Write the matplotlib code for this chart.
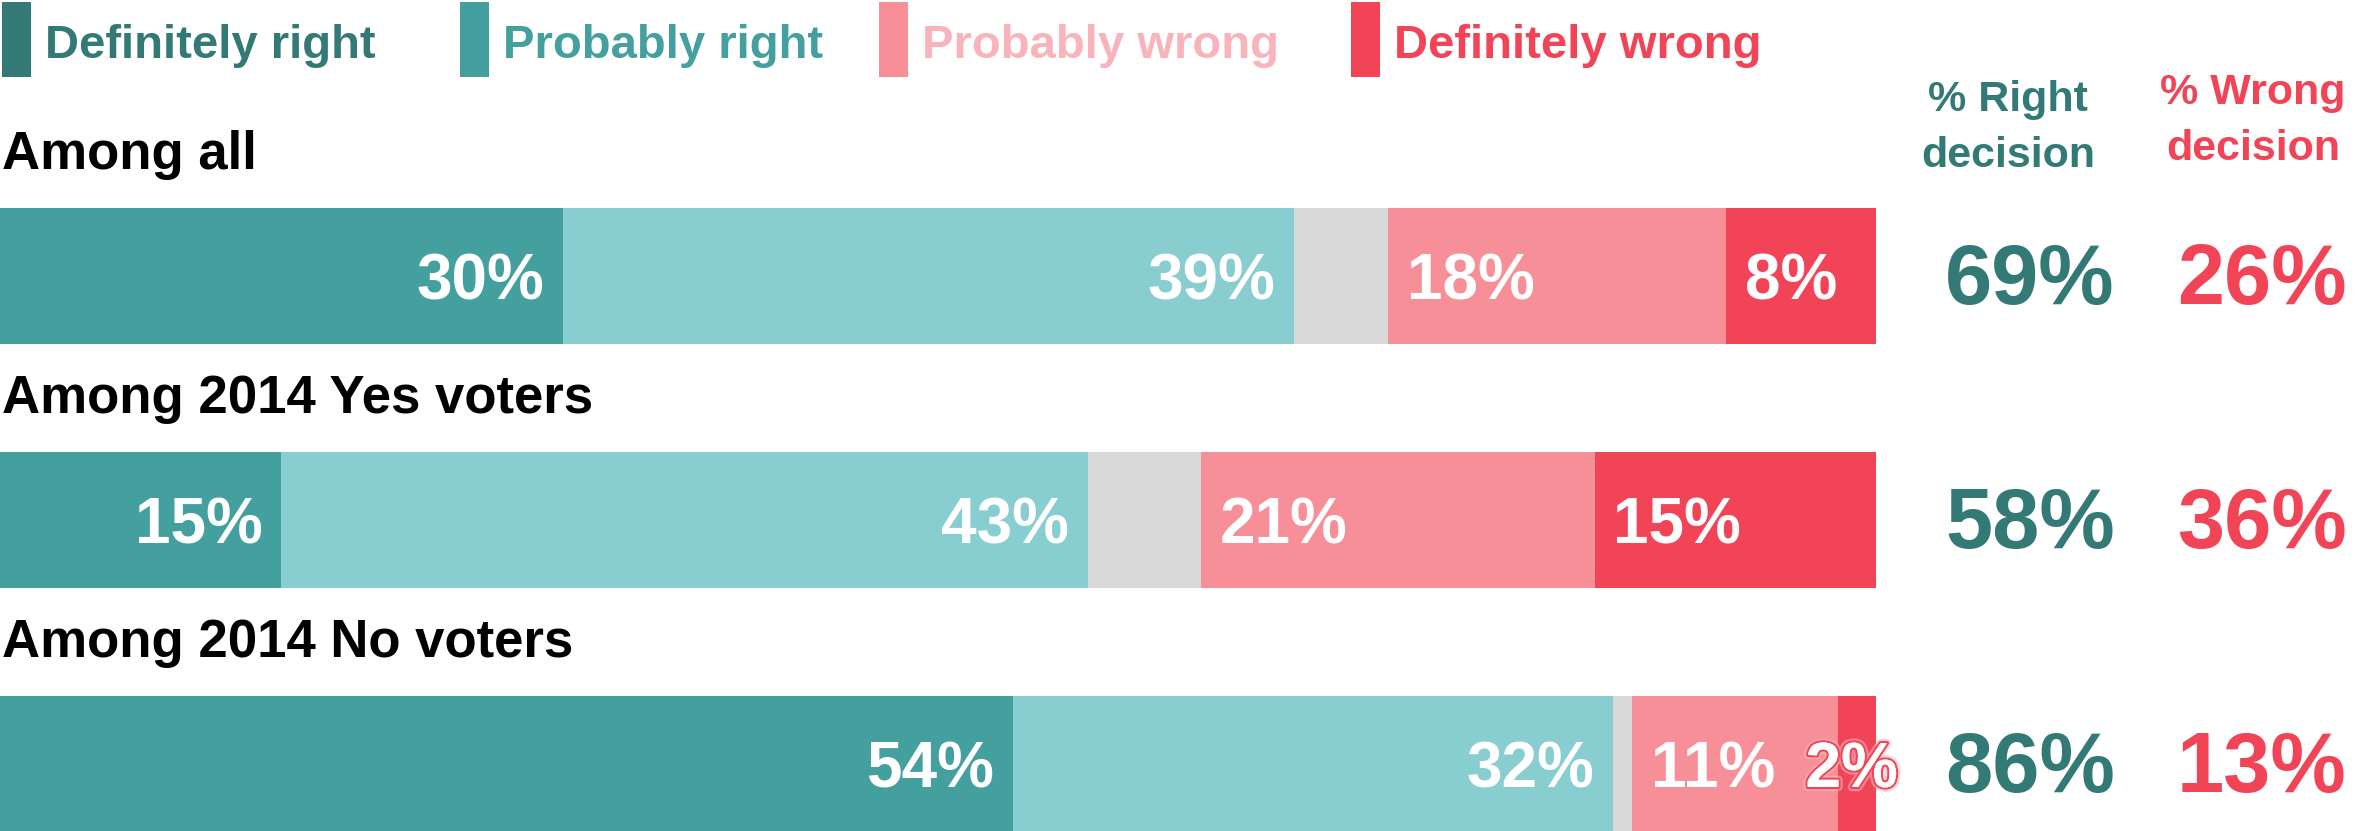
import matplotlib
matplotlib.use("Agg")
import matplotlib.pyplot as plt
from matplotlib.patches import Rectangle
import matplotlib.transforms as mtransforms
import matplotlib.patheffects as pe

plt.rcParams['font.family'] = ['Liberation Sans', 'DejaVu Sans']
plt.rcParams['font.weight'] = 'bold'

# ---------------- data ----------------
groups = ["Among all", "Among 2014 Yes voters", "Among 2014 No voters"]
definitely_right = [30, 15, 54]
probably_right = [39, 43, 32]
dont_know = [5, 6, 1]
probably_wrong = [18, 21, 11]
definitely_wrong = [8, 15, 2]
right_total = [69, 58, 86]
wrong_total = [26, 36, 13]

legend_labels = ["Definitely right", "Probably right", "Probably wrong", "Definitely wrong"]
legend_box_colors = ["#337a76", "#449f9f", "#f78f98", "#f24457"]
legend_text_colors = ["#337a76", "#449f9f", "#f9b4bb", "#f24457"]

seg_colors = ["#449f9f", "#88cdd0", "#d9d9d9", "#f78f98", "#f24457"]
DARK_TEAL = "#337a76"
RED = "#f24457"

W, H = 2358, 831
fig = plt.figure(figsize=(W / 100, H / 100), dpi=100)

def fx(px):
    return px / W

def fy(py):
    return 1 - py / H

# ---------------- bars ----------------
bar_right_px = 1876
ax = fig.add_axes([0, 0, bar_right_px / W, 1])
ax.set_xlim(0, 100)
spacing = 244.0
ax.set_ylim((H - 276) / spacing, -276 / spacing)
ax.axis('off')
bar_h = 136 / spacing

LABEL_FS = 46
series = [definitely_right, probably_right, dont_know, probably_wrong, definitely_wrong]
ypos = list(range(len(groups)))
lefts = [0] * len(groups)
for k, vals in enumerate(series):
    ax.barh(ypos, vals, left=lefts, height=bar_h, color=seg_colors[k], edgecolor='none')
    for i, v in enumerate(vals):
        start = lefts[i]
        end = start + v
        yb = i + 23 / spacing
        txt = f"{v}%"
        if k in (0, 1):
            ax.text(end - 1.0, yb, txt, ha='right', va='baseline', color='white',
                    fontsize=LABEL_FS, fontweight='bold')
        elif k in (3, 4):
            if v < 4:
                t = ax.text((start + end) / 2 - 0.3, yb, txt, ha='center', va='baseline',
                            color='white', fontsize=LABEL_FS, fontweight='bold')
                t.set_path_effects([pe.withStroke(linewidth=6, foreground='#f9b4bb', alpha=0.6),
                                    pe.withStroke(linewidth=3, foreground=RED),
                                    pe.Normal()])
            else:
                ax.text(start + 1.0, yb, txt, ha='left', va='baseline', color='white',
                        fontsize=LABEL_FS, fontweight='bold')
    lefts = [l + v for l, v in zip(lefts, vals)]

# group titles
for i, g in enumerate(groups):
    ax.text(0.1, i - bar_h / 2 - 39 / spacing, g, ha='left', va='baseline',
            color='black', fontsize=38, fontweight='bold')

# ---------------- right columns ----------------
trans = mtransforms.blended_transform_factory(fig.transFigure, ax.transData)
x_right, x_wrong = fx(2030), fx(2262)
for i in ypos:
    yb = i + 28 / spacing
    ax.text(x_right, yb, f"{right_total[i]}%", transform=trans, ha='center', va='baseline',
            color=DARK_TEAL, fontsize=61, fontweight='bold', clip_on=False)
    ax.text(x_wrong, yb, f"{wrong_total[i]}%", transform=trans, ha='center', va='baseline',
            color=RED, fontsize=61, fontweight='bold', clip_on=False)

fig.text(fx(2008), fy(111), "% Right", ha='center', va='baseline', color=DARK_TEAL,
         fontsize=31, fontweight='bold')
fig.text(fx(2008), fy(167), "decision", ha='center', va='baseline', color=DARK_TEAL,
         fontsize=31, fontweight='bold')
fig.text(fx(2253), fy(104), "% Wrong", ha='center', va='baseline', color=RED,
         fontsize=31, fontweight='bold')
fig.text(fx(2253), fy(160), "decision", ha='center', va='baseline', color=RED,
         fontsize=31, fontweight='bold')

# ---------------- legend ----------------
box_x = [2, 460, 879, 1351]
for lbl, bc, tc, bx in zip(legend_labels, legend_box_colors, legend_text_colors, box_x):
    fig.patches.append(Rectangle((fx(bx), fy(77)), 29 / W, 75 / H, transform=fig.transFigure,
                                 facecolor=bc, edgecolor='none'))
    fig.text(fx(bx + 43), fy(58), lbl, ha='left', va='baseline', color=tc,
             fontsize=34, fontweight='bold')

fig.savefig("out.png", dpi=100, facecolor='white')
